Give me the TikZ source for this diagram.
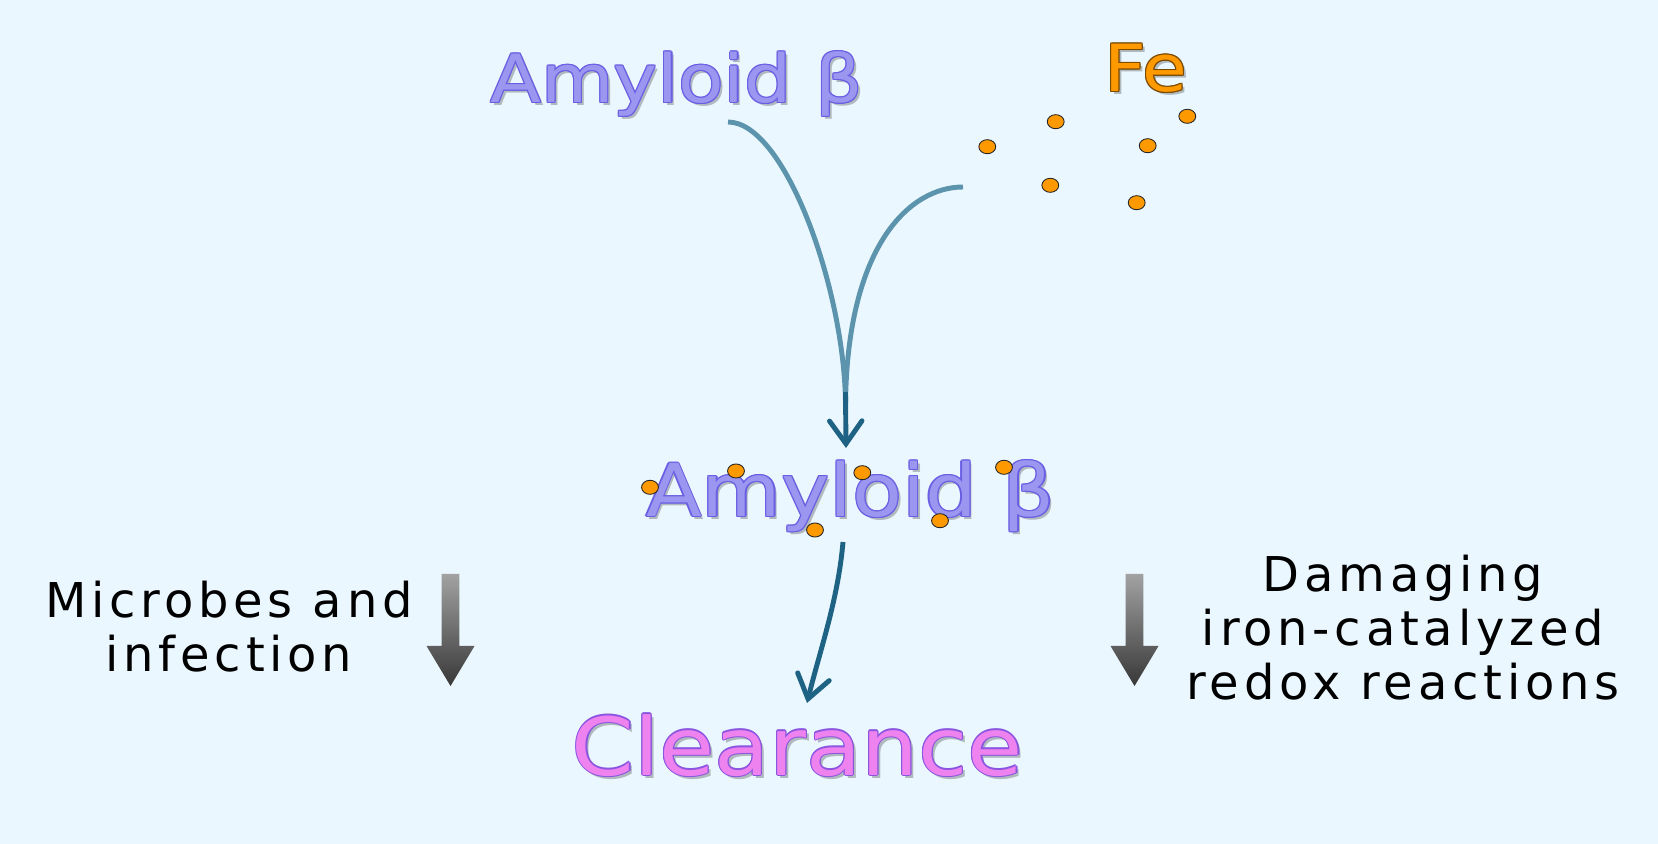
\documentclass[tikz,border=0pt]{standalone}
\usepackage{fontspec}
\setmainfont{DejaVu Sans}
\newfontfamily\bigface[FakeStretch=1.12]{DejaVu Sans}
\newfontfamily\smallface[LetterSpace=10]{DejaVu Sans}
\usetikzlibrary{calc,arrows.meta}

\definecolor{bgblue}{HTML}{EBF7FE}
\definecolor{abfill}{HTML}{9B96F0}
\definecolor{abedge}{HTML}{6A5EE4}
\definecolor{clfill}{HTML}{EE82EE}
\definecolor{cledge}{HTML}{8A55E0}
\definecolor{fefill}{HTML}{FF9900}
\definecolor{feedge}{HTML}{7A4A00}
\definecolor{flowlight}{HTML}{5B94AC}
\definecolor{flowdark}{HTML}{1E6384}
\definecolor{arrowtop}{HTML}{A2A2A2}
\definecolor{arrowbot}{HTML}{383838}

\tikzset{
  bigtext/.style={anchor=base, inner sep=0pt, font={\bigface\fontsize{#1}{#1}\selectfont}},
  smalltext/.style={anchor=base, inner sep=0pt, align=center,
    font={\smallface\fontsize{27.3}{31}\selectfont}},
  fedot/.style={draw=black!85, line width=0.5pt, fill=fefill},
  flowline/.style={line width=2.8pt, flowlight},
  flowarrow/.style={line width=2.8pt, flowdark,
    -{Straight Barb[length=13pt, width=18.5pt, line cap=round]}},
  grayarrow/.pic={
    \shade[top color=arrowtop, bottom color=arrowbot]
      (-8.8,574) -- (8.8,574) -- (8.8,646) -- (24,646) -- (0,686)
      -- (-24,646) -- (-8.8,646) -- cycle;
  }
}

% name, position, size, fill, edge, text
\newcommand\glowlabel[6]{%
  \node[bigtext=#3, text=black, opacity=0.25] at ($(#2)+(1.6pt,-1.8pt)$) {#6};
  \foreach \dx/\dy in {0.7/0,-0.7/0,0/0.7,0/-0.7,0.5/0.5,0.5/-0.5,-0.5/0.5,-0.5/-0.5}
    \node[bigtext=#3, text=#5] at ($(#2)+(\dx pt,\dy pt)$) {#6};
  \node[bigtext=#3, text=#4] (#1) at (#2) {#6};
}

\begin{document}
\begin{tikzpicture}[x=0.02cm, y=-0.02cm]
  \path[use as bounding box, fill=bgblue] (0,0) rectangle (1658,844);

  \coordinate (abeta-pos) at (676.7,102.7);
  \coordinate (fe-pos) at (1145.8,91.7);
  \coordinate (bound-pos) at (850.5,516.7);
  \coordinate (clear-pos) at (797.5,775);

  \glowlabel{abeta}{abeta-pos}{37.8}{abfill}{abedge}{Amyloid β}
  \glowlabel{fe}{fe-pos}{37}{fefill}{feedge}{Fe}

  \foreach \x/\y in {987.3/146.7, 1055.7/121.7, 1187.3/116.3, 1147.7/145.7, 1050.3/185.3, 1136.7/202.7}
    \draw[fedot] (\x,\y) ellipse (4.8pt and 4pt);

  \coordinate (abeta-out) at (728,122);
  \coordinate (fe-out) at (963,187);
  \coordinate (merge) at (845.5,392);
  \coordinate (merge-tip) at (846,448);

  \draw[flowline] (abeta-out) .. controls (785,122) and (845,290) .. (845.5,405);
  \draw[flowline] (fe-out) .. controls (910,187) and (847,245) .. (845.5,405);
  \draw[flowarrow] (merge) -- (merge-tip);

  \glowlabel{bound}{bound-pos}{41.5}{abfill}{abedge}{Amyloid β}
  \foreach \x/\y in {650/487.3, 736/471, 862.3/472.7, 1004/467.3, 815/530, 940/520.7}
    \draw[fedot] (\x,\y) ellipse (4.8pt and 4pt);

  \coordinate (bound-out) at (843,542);
  \coordinate (clear-in) at (807,703);
  \draw[flowarrow] (bound-out) .. controls (838,600) and (820,650) .. (clear-in);

  \glowlabel{clear}{clear-pos}{45.6}{clfill}{cledge}{Clearance}

  \node[smalltext] (microbes) at (229,671.7) {Microbes and\\infection};
  \node[smalltext] (redox) at (1403,700) {Damaging\\iron-catalyzed\\redox reactions};

  \pic at (450.5,0) {grayarrow};
  \pic at (1134.5,0) {grayarrow};
\end{tikzpicture}
\end{document}
